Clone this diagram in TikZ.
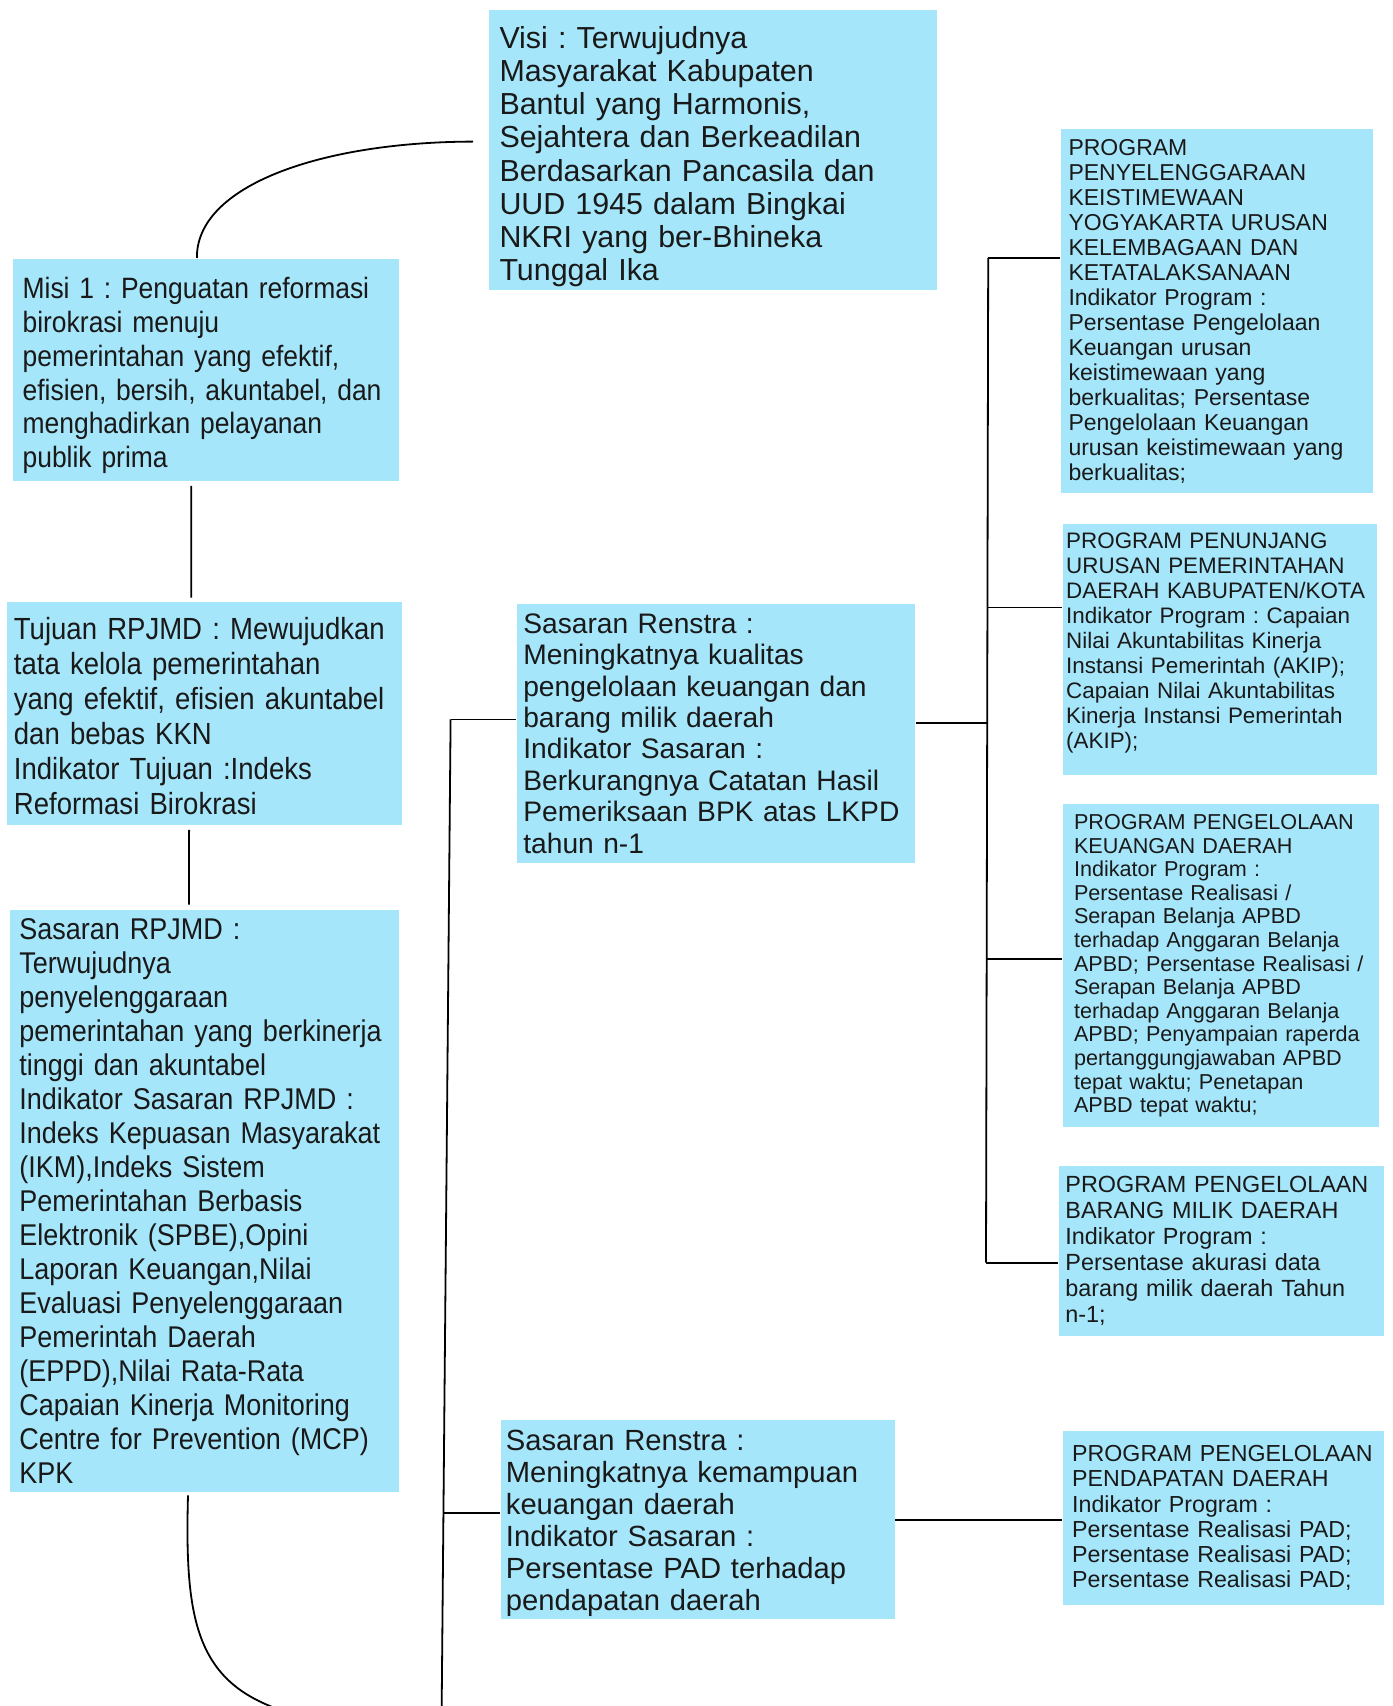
\documentclass[tikz,border=0pt]{standalone}
\usepackage{fontspec}
\setmainfont{Liberation Sans}
\newfontfamily\narrowsf[FakeStretch=0.9]{Liberation Sans}
\usetikzlibrary{calc}
\definecolor{panelblue}{RGB}{166,230,250}
\frenchspacing
\hyphenpenalty=10000

\begin{document}
\begin{tikzpicture}[x=1pt,y=-1pt,line width=0.9pt,
    panel/.style={fill=panelblue,anchor=north west,align=left,inner ysep=0pt,text=black!90}]
  \useasboundingbox (0,0) rectangle (696,853);
  \clip (0,0) rectangle (696,853);
  % left column: visi, misi, tujuan, sasaran
  \node[panel,text width=213.2pt,inner xsep=5.5pt,minimum height=140.4pt,
        font=\fontsize{15.2}{16.55}\selectfont] (visi) at (243.8,4.35)
    {\rule{0pt}{17.7pt}Visi : Terwujudnya\\ Masyarakat Kabupaten\\ Bantul yang Harmonis,\\
     Sejahtera dan Berkeadilan\\ Berdasarkan Pancasila dan\\ UUD 1945 dalam Bingkai\\
     NKRI yang ber-Bhineka\\ Tunggal Ika};
  \node[panel,text width=183.5pt,inner xsep=4.85pt,minimum height=111pt,
        font=\narrowsf\fontsize{14.7}{16.9}\selectfont] (misi) at (6,129)
    {\rule{0pt}{16.4pt}Misi 1 : Penguatan reformasi\\ birokrasi menuju\\ pemerintahan yang efektif,\\
     efisien, bersih, akuntabel, dan\\ menghadirkan pelayanan\\ publik prima};
  \node[panel,text width=191pt,inner xsep=3.25pt,minimum height=111.5pt,
        font=\narrowsf\fontsize{15.3}{17.5}\selectfont] (tujuan) at (3.25,300.4)
    {\rule{0pt}{14.4pt}Tujuan RPJMD : Mewujudkan\\ tata kelola pemerintahan\\ yang efektif, efisien akuntabel\\
     dan bebas KKN\\ Indikator Tujuan :Indeks\\ Reformasi Birokrasi};
  \node[panel,text width=185pt,inner xsep=4.9pt,minimum height=291.15pt,
        font=\narrowsf\fontsize{15}{17}\selectfont] (sasaran) at (4.35,454.4)
    {Sasaran RPJMD :\\ Terwujudnya\\ penyelenggaraan\\ pemerintahan yang berkinerja\\
     tinggi dan akuntabel\\ Indikator Sasaran RPJMD :\\ Indeks Kepuasan Masyarakat\\
     (IKM),Indeks Sistem\\ Pemerintahan Berbasis\\ Elektronik (SPBE),Opini\\
     Laporan Keuangan,Nilai\\ Evaluasi Penyelenggaraan\\ Pemerintah Daerah\\
     (EPPD),Nilai Rata-Rata\\ Capaian Kinerja Monitoring\\ Centre for Prevention (MCP)\\ KPK};
  % middle column: sasaran renstra
  \node[panel,text width=192.7pt,inner xsep=3.25pt,minimum height=129.5pt,
        font=\fontsize{14.1}{15.7}\selectfont] (renstraA) at (257.95,301.5)
    {Sasaran Renstra :\\ Meningkatnya kualitas\\ pengelolaan keuangan dan\\
     barang milik daerah\\ Indikator Sasaran :\\ Berkurangnya Catatan Hasil\\
     Pemeriksaan BPK atas LKPD\\ tahun n-1};
  \node[panel,text width=191.6pt,inner xsep=2.7pt,minimum height=99.6pt,
        font=\fontsize{14.6}{16}\selectfont] (renstraB) at (249.8,709.65)
    {\rule{0pt}{14pt}Sasaran Renstra :\\ Meningkatnya kemampuan\\ keuangan daerah\\
     Indikator Sasaran :\\ Persentase PAD terhadap\\ pendapatan daerah};
  % right column: programs
  \node[panel,text width=148.6pt,inner xsep=3.8pt,minimum height=181.75pt,
        font=\fontsize{11.5}{12.5}\selectfont] (progA) at (530,64.2)
    {PROGRAM\\ PENYELENGGARAAN\\ KEISTIMEWAAN\\ YOGYAKARTA URUSAN\\
     KELEMBAGAAN DAN\\ KETATALAKSANAAN\\ Indikator Program :\\
     Persentase Pengelolaan\\ Keuangan urusan\\ keistimewaan yang\\
     berkualitas; Persentase\\ Pengelolaan Keuangan\\ urusan keistimewaan yang\\ berkualitas;};
  \node[panel,text width=153.7pt,inner xsep=1.5pt,minimum height=125.15pt,
        font=\fontsize{11.2}{12.5}\selectfont] (progB) at (531.15,261.75)
    {PROGRAM PENUNJANG\\ URUSAN PEMERINTAHAN\\ DAERAH KABUPATEN/KOTA\\
     Indikator Program : Capaian\\ Nilai Akuntabilitas Kinerja\\
     Instansi Pemerintah (AKIP);\\ Capaian Nilai Akuntabilitas\\
     Kinerja Instansi Pemerintah\\ (AKIP);\\[-4pt]\mbox{}};
  \node[panel,text width=147pt,inner xsep=5.4pt,minimum height=161.65pt,
        font=\fontsize{10.8}{11.8}\selectfont] (progC) at (531.15,401.6)
    {PROGRAM PENGELOLAAN\\ KEUANGAN DAERAH\\ Indikator Program :\\
     Persentase Realisasi /\\ Serapan Belanja APBD\\ terhadap Anggaran Belanja\\
     APBD; Persentase Realisasi /\\ Serapan Belanja APBD\\ terhadap Anggaran Belanja\\
     APBD; Penyampaian raperda\\ pertanggungjawaban APBD\\ tepat waktu; Penetapan\\
     APBD tepat waktu;};
  \node[panel,text width=156.2pt,inner xsep=3.25pt,minimum height=85.45pt,
        font=\fontsize{11.7}{12.95}\selectfont] (progD) at (529,582.3)
    {PROGRAM PENGELOLAAN\\ BARANG MILIK DAERAH\\ Indikator Program :\\
     Persentase akurasi data\\ barang milik daerah Tahun\\ n-1;};
  \node[panel,text width=151.55pt,inner xsep=4.5pt,minimum height=87.05pt,
        font=\fontsize{11.6}{12.6}\selectfont] (progE) at (531.15,715.1)
    {PROGRAM PENGELOLAAN\\ PENDAPATAN DAERAH\\ Indikator Program :\\
     Persentase Realisasi PAD;\\ Persentase Realisasi PAD;\\ Persentase Realisasi PAD;};
  % joints of the two vertical buses
  \coordinate (busTop) at (225.3,359.7);
  \coordinate (busMid) at (221.8,756.5);
  \coordinate (busEnd) at (220.6,880);
  \coordinate (jA) at (494.1,129);
  \coordinate (jB) at (494.0,303.7);
  \coordinate (jR) at (493.8,361.35);
  \coordinate (jC) at (493.6,479.4);
  \coordinate (jD) at (493.0,631.3);
  \coordinate (curveEnd) at (165,861);
  % connectors of the left column
  \draw ($(visi.west)+(-7.3,-4.2)$) .. controls (160,71) and (98,93) .. ([xshift=-4.6pt]misi.north);
  \draw ([xshift=-7.4pt,yshift=-2pt]misi.south) -- ([xshift=-6.8pt,yshift=1.6pt]tujuan.north);
  \draw ([xshift=-7.9pt,yshift=-2.1pt]tujuan.south) -- ([xshift=-7.7pt,yshift=2.1pt]sasaran.north);
  \draw ([xshift=-8.2pt,yshift=-1.2pt]sasaran.south) .. controls (92,820) and (100,850) .. (curveEnd);
  % bus to the two sasaran renstra
  \draw (busTop) -- (busEnd);
  \draw (busTop) -- (busTop -| renstraA.west);
  \draw (busMid) -- (busMid -| renstraB.west);
  % bus to the programs
  \draw (jA) -- (jD);
  \draw (jR -| renstraA.east) -- (jR);
  \draw (jA) -- (jA -| progA.west);
  \draw (jB) -- (jB -| progB.west);
  \draw (jC) -- (jC -| progC.west);
  \draw (jD) -- (jD -| progD.west);
  \draw (renstraB.east) -- (renstraB.east -| progE.west);
\end{tikzpicture}
\end{document}
